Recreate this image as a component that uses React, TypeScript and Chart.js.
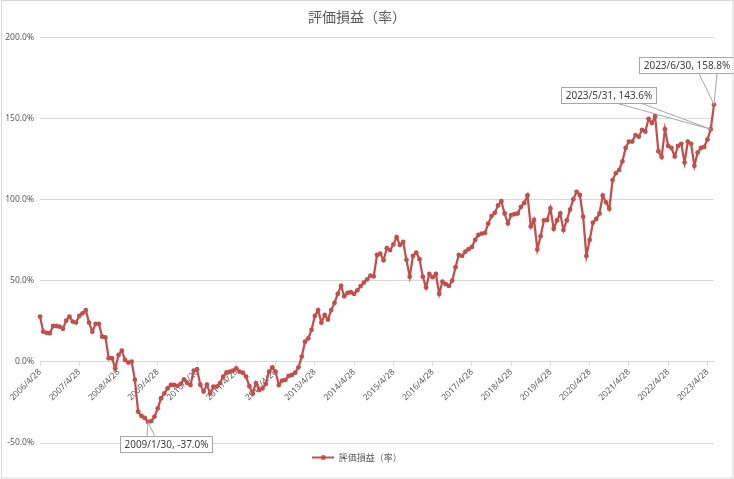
import React, { useEffect, useRef } from "react";
import { Chart, registerables } from "chart.js";

Chart.register(...registerables);

// Monthly evaluation gain/loss rate (%), 2006/4 .. 2023/6
const startYear = 2006;
const startMonth = 4;
const values: number[] = [
  28, 18.7, 18, 17.7, 22.2, 22.2, 21.8, 20.5, 25.5, 28,
  24.9, 24.3, 28.4, 30, 32, 24.3, 18.7, 23.5, 23.5, 15.6,
  15.2, 2.3, 2.3, -3.9, 4.3, 7, 1.2, -0.4, 0.2, -11,
  -30.7, -33.3, -34.5, -37.0, -36.5, -33.7, -28.6, -22.4, -19.4, -16.3,
  -14.2, -14.2, -14.8, -13.5, -10.7, -13, -14.2, -5.3, -4.5, -14,
  -18.3, -14, -19.4, -15.2, -15.2, -13, -9, -6.5, -6, -5.3,
  -3.9, -6, -6.6, -9, -15, -19.4, -13, -17.3, -16.3, -13.6,
  -6, -3.3, -6, -14.2, -11.5, -11.1, -8.6, -8, -6.6, -3.3,
  3.3, 12.5, 14.6, 19.8, 28.4, 32, 24.3, 29, 26.2, 32,
  36.4, 42, 47, 40.5, 42.6, 43, 42, 44.2, 46.8, 49,
  51, 53.3, 52.8, 66, 66.8, 62.8, 70.2, 69, 72.5, 77,
  72.2, 74, 63, 52.6, 65.4, 67.5, 63.4, 52.6, 46, 54.3,
  52.3, 54.3, 42, 49.6, 48, 46.9, 50.2, 58.5, 66, 65.4,
  68, 69.6, 71, 75.3, 78.4, 79.2, 79.6, 85.4, 90, 92,
  96.6, 99.2, 91.6, 85.5, 90.6, 91.2, 91.6, 95.7, 98.1, 102.8,
  83.6, 87.6, 69.4, 77.6, 87.3, 87.6, 94.7, 82.2, 87.3, 91.6,
  81.4, 87.3, 94, 100.4, 105, 103, 89.6, 65.4, 75.3, 86,
  88.2, 91.6, 102.7, 98.5, 94.5, 112.2, 116.5, 118.5, 123.7, 132,
  136, 136, 140, 139, 143.2, 142.1, 150, 147.5, 151.6, 130,
  126.4, 143.6, 133.3, 132, 126.8, 133.3, 134.6, 123, 136, 134.6,
  121, 129.2, 132, 132.7, 137.3, 143.6, 158.8,
];

const tickLabels: string[] = [
  "2006/4/28", "2007/4/28", "2008/4/28", "2009/4/28", "2010/4/28", "2011/4/28",
  "2012/4/28", "2013/4/28", "2014/4/28", "2015/4/28", "2016/4/28", "2017/4/28",
  "2018/4/28", "2019/4/28", "2020/4/28", "2021/4/28", "2022/4/28", "2023/4/28",
];

const categories: string[] = values.map((_, i) => {
  const m = startMonth - 1 + i;
  return `${startYear + Math.floor(m / 12)}/${(m % 12) + 1}`;
});

const calloutIndex: number[] = [206, 205, 33];
const calloutDates: string[] = ["2023/6/30", "2023/5/31", "2009/1/30"];
// box offsets from point and wedge base placement (pixels)
const calloutStyle = [
  { dx: -28, dy: -40, wx: 22, hw: 9 },
  { dx: -102, dy: -34, wx: 21, hw: 12 },
  { dx: 18, dy: 22, wx: -15, hw: 4 },
];

const seriesName = "評価損益（率）";
const lineColor = "rgb(192,80,77)";
const textColor = "#595959";
const gridColor = "#d9d9d9";
const tickFont = '"Noto Sans", "Liberation Sans", sans-serif';
const cjkFont = '"Noto Sans CJK JP", "Noto Sans", sans-serif';

function makeLegendImage() {
  const c = document.createElement("canvas");
  c.width = 22;
  c.height = 7;
  const g = c.getContext("2d")!;
  g.strokeStyle = lineColor;
  g.lineWidth = 2;
  g.beginPath();
  g.moveTo(0, 3.5);
  g.lineTo(22, 3.5);
  g.stroke();
  g.fillStyle = lineColor;
  g.beginPath();
  g.arc(11, 3.5, 2.5, 0, Math.PI * 2);
  g.fill();
  return c;
}

const calloutPlugin = {
  id: "callouts",
  afterDatasetsDraw(chart: any) {
    const ctx = chart.ctx;
    const meta = chart.getDatasetMeta(0);
    ctx.save();
    ctx.font = `10px ${tickFont}`;
    calloutIndex.forEach((idx, k) => {
      const pt = meta.data[idx];
      if (!pt) return;
      const s = calloutStyle[k];
      const px = pt.x;
      const py = pt.y;
      const text = `${calloutDates[k]}, ${values[idx].toFixed(1)}%`;
      const tw = ctx.measureText(text).width;
      const w = Math.round(tw + 8);
      const h = 16;
      const cx = px + s.dx;
      const cy = py + s.dy;
      const left = Math.round(cx - w / 2) + 0.5;
      const top = Math.round(cy - h / 2) + 0.5;
      const baseY = s.dy < 0 ? top + h : top;
      const bx = cx + s.wx;
      ctx.strokeStyle = "#a6a6a6";
      ctx.lineWidth = 1;
      ctx.fillStyle = "#ffffff";
      ctx.beginPath();
      ctx.moveTo(bx - s.hw, baseY);
      ctx.lineTo(px, py);
      ctx.lineTo(bx + s.hw, baseY);
      ctx.closePath();
      ctx.fill();
      ctx.stroke();
      ctx.fillRect(left, top, w, h);
      ctx.strokeRect(left, top, w, h);
      ctx.fillStyle = "#404040";
      ctx.textAlign = "center";
      ctx.textBaseline = "middle";
      ctx.fillText(text, left + w / 2, top + h / 2 + 0.5);
    });
    ctx.restore();
  },
};

const framePlugin = {
  id: "frame",
  afterDraw(chart: any) {
    const ctx = chart.ctx;
    ctx.save();
    ctx.strokeStyle = gridColor;
    ctx.lineWidth = 1;
    ctx.strokeRect(1.5, 0.5, chart.width - 2.5, chart.height - 1.5);
    ctx.restore();
  },
};

export default function App() {
  const ref = useRef<HTMLCanvasElement>(null);
  useEffect(() => {
    if (!ref.current) return;
    const chart = new Chart(ref.current, {
      type: "line",
      data: {
        labels: categories,
        datasets: [
          {
            label: seriesName,
            data: values,
            borderColor: lineColor,
            backgroundColor: lineColor,
            borderWidth: 2.25,
            pointRadius: 2.4,
            pointBackgroundColor: lineColor,
            pointBorderColor: lineColor,
            pointBorderWidth: 0,
            tension: 0,
          },
        ],
      },
      options: {
        animation: false,
        responsive: false,
        maintainAspectRatio: false,
        layout: { padding: { left: 0, right: 20, top: 1, bottom: 7 } },
        plugins: {
          title: {
            display: true,
            text: seriesName,
            color: textColor,
            font: { family: cjkFont, size: 14, weight: "normal" },
            padding: { top: 7, bottom: 13 },
          },
          legend: {
            position: "bottom",
            labels: {
              usePointStyle: true,
              pointStyle: makeLegendImage() as any,
              pointStyleWidth: 22,
              boxHeight: 7,
              color: textColor,
              font: { family: cjkFont, size: 9 },
              padding: 10,
            },
          },
          tooltip: { enabled: false },
        },
        scales: {
          x: {
            type: "category",
            position: { y: 0 } as any,
            offset: false,
            grid: {
              drawOnChartArea: false,
              drawTicks: true,
              tickLength: 4,
              color: gridColor,
            },
            border: { display: true, color: gridColor },
            ticks: {
              autoSkip: false,
              maxRotation: 45,
              minRotation: 45,
              padding: 1,
              color: textColor,
              font: { family: tickFont, size: 8.5 },
              callback: (_v: any, i: number) =>
                i % 12 === 0 ? tickLabels[i / 12] : null,
            },
          },
          y: {
            min: -50,
            max: 200,
            grid: { color: gridColor, drawTicks: false },
            border: { display: false },
            afterFit: (scale: any) => {
              scale.width = 40;
            },
            ticks: {
              stepSize: 50,
              padding: 6,
              color: textColor,
              font: { family: tickFont, size: 8.5 },
              callback: (v: any) => `${Number(v).toFixed(1)}%`,
            },
          },
        },
      },
      plugins: [calloutPlugin, framePlugin],
    });
    return () => chart.destroy();
  }, []);
  return (
    <div style={{ position: "fixed", left: 0, top: 0, width: 734, height: 479, background: "#fff" }}>
      <canvas ref={ref} width={734} height={479} style={{ display: "block", width: 734, height: 479 }} />
    </div>
  );
}
